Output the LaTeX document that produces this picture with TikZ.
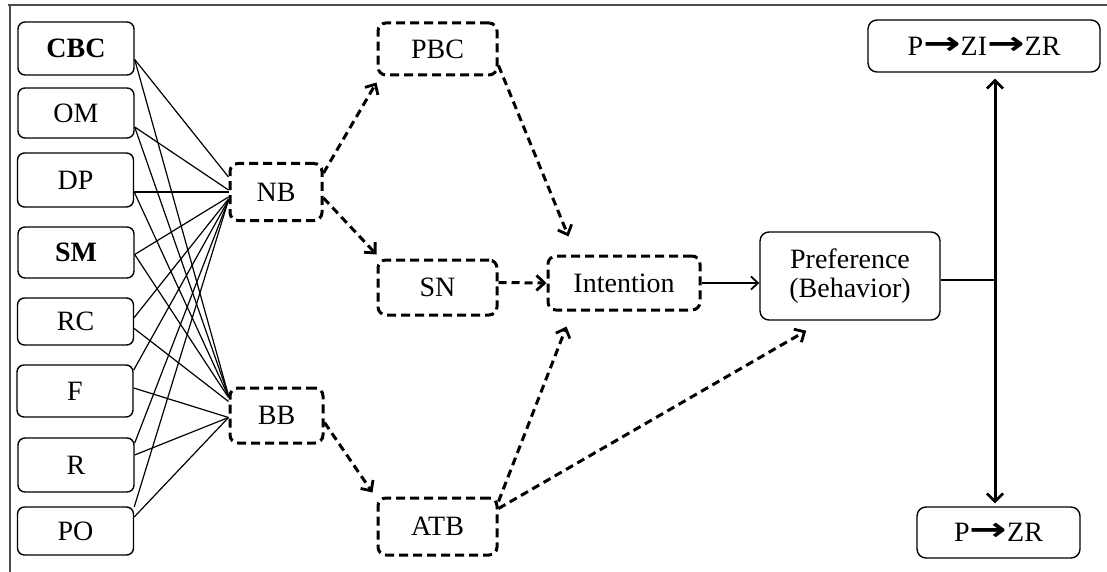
\documentclass[tikz,border=0pt]{standalone}
\usepackage{fontspec}
\setmainfont{Liberation Serif}
\newfontfamily\symfont{DejaVu Sans}
\usetikzlibrary{arrows.meta}
\newcommand\figfont{\fontsize{28}{30}\selectfont}
\newcommand\bigarrow{\raisebox{1pt}{\scalebox{1.6}[1.15]{\symfont\bfseries →}}}
\begin{document}
\begin{tikzpicture}[x=1pt,y=-1pt,
  every node/.style={font=\figfont},
  srcbox/.style={draw, line width=1.4pt, rounded corners=7pt, minimum width=116pt, inner sep=0pt},
  dbox/.style={draw, line width=3pt, dash pattern=on 9pt off 5pt, rounded corners=8pt, inner sep=0pt},
  sbox/.style={draw, line width=1.4pt, rounded corners=9pt, inner sep=0pt},
  fan/.style={line width=1.2pt},
  tipd/.tip={Straight Barb[length=8pt,width=15pt,line width=2.8pt]},
  darr/.style={line width=3pt, dash pattern=on 8pt off 5pt, -tipd},
  sarr/.style={line width=1.4pt, -{Straight Barb[length=7pt,width=13pt,line width=1.8pt]}},
  tipv/.tip={Straight Barb[length=8pt,width=16pt,line width=2.6pt]},
  varr/.style={line width=3pt, tipv-tipv},
]
\useasboundingbox (0,0) rectangle (1107,572);
% frame
\draw[line width=1.6pt, black!70] (8,5) -- (1107,5);
\draw[line width=1.6pt, black!70] (10,5) -- (10,572);

% factor boxes
\node[srcbox, minimum height=53pt, font=\figfont\bfseries] (cbc) at (76,48.5) {CBC};
\node[srcbox, minimum height=50pt] (om) at (76,113) {OM};
\node[srcbox, minimum height=54pt] (dp) at (75.5,180) {DP};
\node[srcbox, minimum height=51pt, font=\figfont\bfseries] (sm) at (76,252.5) {SM};
\node[srcbox, minimum height=47pt] (rc) at (75.5,321.5) {RC};
\node[srcbox, minimum height=52pt] (f) at (75,391) {F};
\node[srcbox, minimum height=54pt] (r) at (76,465) {R};
\node[srcbox, minimum height=48pt] (po) at (75.5,531) {PO};

% beliefs and constructs
\node[dbox, minimum width=92pt, minimum height=57pt] (nb) at (276,192) {NB};
\node[dbox, minimum width=93pt, minimum height=55pt] (bb) at (276.5,415.5) {BB};
\node[dbox, minimum width=119pt, minimum height=52pt] (pbc) at (437.5,49) {PBC};
\node[dbox, minimum width=119pt, minimum height=55pt] (sn) at (437.5,287.5) {SN};
\node[dbox, minimum width=119pt, minimum height=57pt] (atb) at (437.5,526.5) {ATB};
\node[dbox, minimum width=152pt, minimum height=54pt] (int) at (624,283) {Intention};
\node[sbox, minimum width=180pt, minimum height=88pt, align=center] (pref) at (850,276)
  {Preference\\[-1pt](Behavior)};
\node[sbox, minimum width=232pt, minimum height=52pt] (zizr) at (984,46)
  {P\bigarrow ZI\bigarrow ZR};
\node[sbox, minimum width=163pt, minimum height=51pt] (zr) at (998.5,532.5)
  {P\bigarrow ZR};

% factors to normative beliefs
\draw[fan] ([yshift=-11pt]cbc.east) -- ([yshift=15pt]nb.west);
\draw[fan] ([yshift=-14pt]om.east) -- ([yshift=2pt]nb.west);
\draw[fan] ([yshift=-12pt]dp.east) -- (nb.west);
\draw[fan] ([yshift=-2pt]sm.east) -- ([yshift=-5pt]nb.west);
\draw[fan] ([yshift=4pt]rc.east) -- ([yshift=-7pt]nb.west);
\draw[fan] ([yshift=21pt]f.east) -- ([yshift=-8pt]nb.west);
\draw[fan] ([yshift=22pt]r.east) -- ([yshift=-8pt]nb.west);
\draw[fan] ([yshift=24pt]po.east) -- ([yshift=-8pt]nb.west);

% factors to behavioural beliefs
\draw[fan] ([yshift=-11pt]cbc.east) -- ([yshift=20pt]bb.west);
\draw[fan] ([yshift=-14pt]om.east) -- ([yshift=20pt]bb.west);
\draw[fan] ([yshift=-12pt]dp.east) -- ([yshift=19pt]bb.west);
\draw[fan] ([yshift=-2pt]sm.east) -- ([yshift=18pt]bb.west);
\draw[fan] ([yshift=-7pt]rc.east) -- ([yshift=14pt]bb.west);
\draw[fan] ([yshift=3pt]f.east) -- ([yshift=-2pt]bb.west);
\draw[fan] ([yshift=10pt]r.east) -- ([yshift=-2pt]bb.west);
\draw[fan] ([yshift=14pt]po.east) -- ([yshift=-2pt]bb.west);

% dashed paths of the model
\draw[darr] ([yshift=-11pt]nb.north east) -- ([yshift=-6pt]pbc.south west);
\draw[darr] ([yshift=-6pt]nb.east) -- ([yshift=4pt]sn.north west);
\draw[darr] ([yshift=11pt]pbc.south east) -- ([xshift=22pt,yshift=18pt]int.north west);
\draw[darr] ([yshift=5pt]sn.east) -- (int.west);
\draw[darr] ([yshift=-7pt]bb.east) -- ([xshift=-4pt,yshift=4pt]atb.north west);
\draw[darr] ([yshift=-5pt]atb.north east) -- ([xshift=20pt,yshift=-15pt]int.south west);
\draw[darr] ([yshift=-12pt]atb.north east) -- ([xshift=47pt,yshift=-10pt]pref.south west);

% solid paths
\draw[sarr] (int.east) -- (int.east -| pref.west);
\coordinate (jn) at ([yshift=-4pt]pref.east -| 995,0);
\draw[line width=1.4pt] ([yshift=-4pt]pref.east) -- (jn);
\draw[varr] ([yshift=-6pt]jn |- zizr.south) -- ([yshift=3pt]jn |- zr.north);
\end{tikzpicture}
\end{document}
